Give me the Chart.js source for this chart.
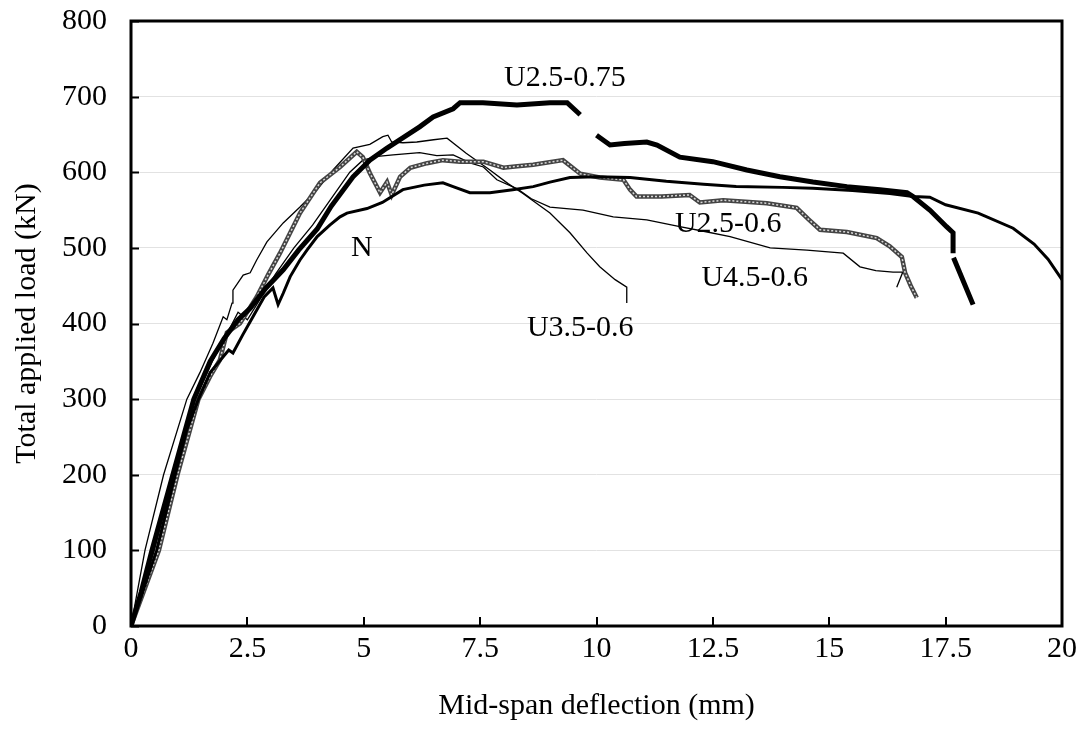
<!DOCTYPE html>
<html lang="en">
<head>
    <meta charset="UTF-8">
    <title>Load - deflection curves</title>
    <style>
        body {
            margin: 0;
            padding: 0;
            background-color: #ffffff;
        }
        #wrap {
            width: 1085px;
            height: 751px;
        }
    </style>
</head>
<body>
    <div id="wrap"><canvas id="loadChart"></canvas></div>

    <script src="https://cdn.jsdelivr.net/npm/chart.js"></script>
    <script>
        // deflection (mm), load (kN)
        const curveU25075 = [
            [0, 0], [0.22, 45], [0.45, 100], [0.9, 200], [1.35, 300], [1.7, 350], [2.0, 380],
            [2.3, 405], [2.56, 420], [2.9, 447], [3.27, 471], [3.6, 497], [4.0, 525], [4.3, 555],
            [4.77, 594], [5.13, 616], [5.5, 632], [5.78, 643], [6.2, 660], [6.49, 673], [6.92, 684],
            [7.07, 692], [7.56, 692], [8.29, 689], [9.0, 692], [9.37, 692], [9.65, 676], [9.8, null],
            [10.0, 649], [10.29, 636], [10.6, 638], [11.08, 640], [11.3, 636], [11.79, 620],
            [12.5, 614], [13.23, 603], [13.94, 594], [14.65, 587], [15.38, 581], [16.09, 577],
            [16.67, 573], [16.8, 568], [17.16, 550], [17.52, 528], [17.66, 520], [17.66, 493],
            [17.66, null], [17.67, 487], [18.09, 425]
        ];
        const curveN = [
            [0, 0], [0.25, 45], [0.55, 100], [0.95, 200], [1.2, 260], [1.45, 300], [1.7, 335],
            [1.98, 356], [2.1, 365], [2.19, 361], [2.4, 385], [2.62, 409], [2.86, 435], [3.05, 447],
            [3.16, 425], [3.27, 440], [3.42, 462], [3.63, 484], [3.78, 497], [4.0, 515], [4.27, 530],
            [4.49, 541], [4.64, 546], [5.07, 552], [5.4, 560], [5.84, 577], [6.3, 583], [6.7, 586],
            [6.92, 581], [7.28, 573], [7.71, 573], [8.2, 577], [8.64, 581], [9.0, 587], [9.43, 593],
            [10.0, 594], [10.72, 593], [11.5, 588], [12.3, 584], [13.0, 581], [14.0, 580],
            [14.65, 579], [15.5, 576], [16.3, 572], [16.8, 568], [17.16, 567], [17.5, 557],
            [18.2, 546], [18.95, 526], [19.4, 505], [19.7, 485], [20.0, 458]
        ];
        const curveU2506 = [
            [0, 0], [0.3, 50], [0.6, 100], [1.0, 200], [1.45, 300], [1.7, 330], [1.91, 352],
            [2.06, 388], [2.34, 400], [2.7, 435], [2.95, 465], [3.2, 493], [3.63, 546], [4.06, 586],
            [4.49, 607], [4.85, 627], [4.98, 620], [5.13, 599], [5.35, 573], [5.5, 587], [5.6, 570],
            [5.78, 594], [6.0, 606], [6.36, 612], [6.7, 616], [7.07, 614], [7.57, 614], [8.0, 606],
            [8.3, 608], [8.64, 610], [9.28, 616], [9.65, 598], [10.07, 593], [10.58, 590],
            [10.72, 577], [10.86, 568], [11.4, 568], [12.0, 570], [12.22, 560], [12.72, 563],
            [13.2, 561], [13.66, 559], [14.3, 553], [14.55, 538], [14.8, 524], [15.38, 521],
            [16.02, 513], [16.3, 502], [16.56, 488], [16.63, 467], [16.75, 450], [16.88, 434]
        ];
        const curveU3506 = [
            [0, 0], [0.15, 50], [0.3, 100], [0.7, 200], [1.2, 300], [1.48, 335], [1.76, 374],
            [1.98, 409], [2.06, 405], [2.17, 427], [2.19, 444], [2.41, 464], [2.56, 467], [2.7, 484],
            [2.92, 508], [3.27, 533], [3.63, 554], [4.0, 577], [4.34, 603], [4.77, 632], [5.13, 637],
            [5.41, 647], [5.52, 649], [5.6, 640], [5.84, 639], [6.14, 640], [6.5, 643], [6.79, 645],
            [7.2, 625], [7.71, 603], [8.1, 585], [8.42, 572], [9.0, 546], [9.43, 520], [9.8, 493],
            [10.07, 475], [10.4, 458], [10.65, 448], [10.65, 427]
        ];
        const curveU4506 = [
            [0, 0], [0.25, 50], [0.5, 100], [0.92, 200], [1.38, 300], [1.75, 350], [2.05, 385],
            [2.3, 415], [2.5, 405], [2.75, 430], [3.1, 465], [3.5, 500], [3.9, 530], [4.3, 565],
            [4.7, 600], [4.98, 616], [5.3, 621], [5.63, 623], [6.2, 626], [6.57, 622], [6.92, 623],
            [7.3, 612], [7.57, 607], [7.86, 590], [8.3, 578], [8.6, 565], [9.0, 554], [9.71, 550],
            [10.36, 541], [11.08, 537], [11.79, 528], [12.3, 522], [12.87, 515], [13.73, 500],
            [14.52, 497], [15.3, 493], [15.66, 475], [16.0, 470], [16.37, 468], [16.58, 468],
            [16.45, 448]
        ];

        // curve labels placed in data coordinates
        const labelText = ['U2.5-0.75', 'N', 'U2.5-0.6', 'U4.5-0.6', 'U3.5-0.6'];
        const labelX = [9.32, 4.96, 12.83, 13.4, 9.65];
        const labelY = [725, 500, 532, 460, 394];

        const serif = '"Liberation Serif", "Times New Roman", serif';
        const fontSize = 30;

        function toPoints(arr) {
            return arr.map(p => ({ x: p[0], y: p[1] }));
        }

        function lineSet(arr, color, width, dash) {
            return {
                data: toPoints(arr),
                borderColor: color,
                borderWidth: width,
                borderDash: dash || [],
                pointRadius: 0,
                fill: false,
                tension: 0,
                spanGaps: false
            };
        }

        // frame, inside tick marks and curve labels
        const decorations = {
            id: 'decorations',
            afterDatasetsDraw(chart) {
                const ctx = chart.ctx;
                const a = chart.chartArea;
                const xs = chart.scales.x;
                const ys = chart.scales.y;
                ctx.save();
                ctx.strokeStyle = '#000';
                ctx.lineWidth = 2;
                ctx.beginPath();
                ys.ticks.forEach(t => {
                    const py = Math.round(ys.getPixelForValue(t.value)) + 0.5;
                    ctx.moveTo(a.left, py);
                    ctx.lineTo(a.left + 8, py);
                });
                xs.ticks.forEach(t => {
                    const px = Math.round(xs.getPixelForValue(t.value));
                    ctx.moveTo(px, a.bottom);
                    ctx.lineTo(px, a.bottom - 9);
                });
                ctx.stroke();
                ctx.lineWidth = 3;
                ctx.strokeRect(a.left, a.top, a.right - a.left, a.bottom - a.top);

                ctx.fillStyle = '#000';
                ctx.font = fontSize + 'px ' + serif;
                ctx.textAlign = 'center';
                ctx.textBaseline = 'middle';
                labelText.forEach((txt, i) => {
                    ctx.fillText(txt, xs.getPixelForValue(labelX[i]), ys.getPixelForValue(labelY[i]));
                });
                ctx.restore();
            }
        };

        const ctx = document.getElementById('loadChart').getContext('2d');
        const loadChart = new Chart(ctx, {
            type: 'line',
            data: {
                datasets: [
                    lineSet(curveU25075, '#000', 5),
                    lineSet(curveN, '#000', 3),
                    lineSet(curveU2506, '#d8d8d8', 1.5, [2, 2]),
                    lineSet(curveU2506, '#444', 4.5),
                    lineSet(curveU3506, '#000', 1.3),
                    lineSet(curveU4506, '#000', 1.3)
                ]
            },
            options: {
                responsive: true,
                maintainAspectRatio: false,
                animation: false,
                devicePixelRatio: 1,
                layout: {
                    padding: { left: 0, top: 21, right: 23, bottom: 0 }
                },
                plugins: {
                    legend: { display: false },
                    tooltip: { enabled: false }
                },
                scales: {
                    x: {
                        type: 'linear',
                        min: 0,
                        max: 20,
                        afterFit(scale) {
                            scale.height = 125;
                            scale.paddingLeft = 0;
                            scale.paddingRight = 0;
                        },
                        ticks: {
                            stepSize: 2.5,
                            color: '#000',
                            padding: 5,
                            maxRotation: 0,
                            font: { family: serif, size: fontSize }
                        },
                        grid: { display: false, drawTicks: false },
                        border: { display: false },
                        title: {
                            display: true,
                            text: 'Mid-span deflection (mm)',
                            color: '#000',
                            padding: { top: 0, bottom: 27 },
                            font: { family: serif, size: fontSize }
                        }
                    },
                    y: {
                        min: 0,
                        max: 800,
                        afterFit(scale) {
                            scale.width = 131;
                            scale.paddingTop = 0;
                            scale.paddingBottom = 0;
                        },
                        ticks: {
                            stepSize: 100,
                            color: '#000',
                            padding: 24,
                            font: { family: serif, size: fontSize }
                        },
                        grid: { color: '#e2e2e2', lineWidth: 1, drawTicks: false },
                        border: { display: false },
                        title: {
                            display: true,
                            text: 'Total applied load (kN)',
                            color: '#000',
                            padding: { top: 9, bottom: 0 },
                            font: { family: serif, size: fontSize }
                        }
                    }
                }
            },
            plugins: [decorations]
        });
    </script>
</body>
</html>
